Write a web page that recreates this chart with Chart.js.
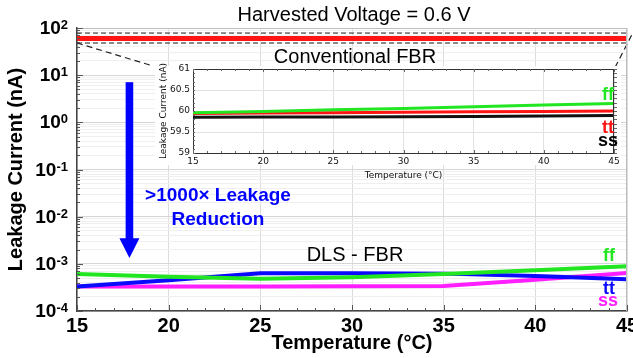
<!DOCTYPE html>
<html>
<head>
<meta charset="utf-8">
<script src="https://cdn.jsdelivr.net/npm/chart.js@4.4.1/dist/chart.umd.min.js"></script>
<style>
  html, body { margin: 0; padding: 0; background: #fff; }
  #wrap { position: relative; width: 633px; height: 358px; overflow: hidden; }
  #main { position: absolute; left: 0; top: 0; }
  #inset { position: absolute; left: 155px; top: 62px; }
</style>
</head>
<body>
<div id="wrap">
  <canvas id="main" width="633" height="358"></canvas>
  <canvas id="inset" width="470" height="125"></canvas>
</div>
<script>
// ===== data =====
const temps = [15, 20, 25, 30, 35, 40, 45];
// DLS-FBR leakage (nA)
const dlsFF = [6.1e-4, 5.3e-4, 4.8e-4, 5.2e-4, 6.1e-4, 7.3e-4, 8.9e-4];
const dlsTT = [3.3e-4, 4.5e-4, 6.3e-4, 6.3e-4, 6.2e-4, 5.5e-4, 4.7e-4];
const dlsSS = [3.3e-4, 3.3e-4, 3.3e-4, 3.35e-4, 3.4e-4, 4.6e-4, 6.4e-4];
// conventional FBR leakage (nA)
const convFF = [59.96, 59.99, 60.03, 60.06, 60.10, 60.14, 60.18];
const convTT = [59.94, 59.95, 59.96, 59.97, 59.98, 59.99, 60.00];
const convSS = [59.85, 59.855, 59.86, 59.865, 59.87, 59.88, 59.89];
// axes
const yDecades = [-4, -3, -2, -1, 0, 1, 2];
const insetRange = [59, 61];
// zoom box round the conventional lines (nA) and the connector lines
const zoomBox = [78, 48];
const connLeft = [[15, 48], [19.0, 16.3]];
const connRight = [[45.25, 70], [44.3, 13.4]];
// arrow (x in degC, y in nA)
const arrow = { x: 17.86, top: 7.1, headBase: 3.5e-3, tip: 1.33e-3 };

const FONT = 'Arial, "Liberation Sans", sans-serif';
const SMALL = '"DejaVu Sans", Verdana, sans-serif';
const GREEN = '#22e622', RED = '#ff1414', BLUE = '#0a0aff', MAGENTA = '#ff1eff', BLACK = '#111';

const pts = (ys) => temps.map((t, i) => ({ x: t, y: ys[i] }));
const pair = (p) => p.map(([x, y]) => ({ x, y }));
const flat = (v) => [{ x: 15, y: v }, { x: 45, y: v }];

function line(label, data, color, width, extra) {
    return Object.assign({ label, data, borderColor: color, backgroundColor: color,
        borderWidth: width, pointRadius: 0, tension: 0, fill: false }, extra || {});
}

function txt(ctx, s, x, y, font, color, align) {
    ctx.save();
    ctx.font = font; ctx.fillStyle = color;
    ctx.textAlign = align || 'center'; ctx.textBaseline = 'middle';
    ctx.fillText(s, x, y);
    ctx.restore();
}

// ===== main chart decorations =====
const mainDecor = {
    id: 'mainDecor',
    afterDraw(chart) {
        const { ctx, chartArea: a, scales: { x, y } } = chart;
        ctx.save();
        // top / right frame
        ctx.strokeStyle = '#bdbdbd'; ctx.lineWidth = 1;
        ctx.beginPath();
        ctx.moveTo(a.left, a.top + 0.5); ctx.lineTo(a.right, a.top + 0.5);
        ctx.moveTo(a.right - 0.5, a.top); ctx.lineTo(a.right - 0.5, a.bottom);
        ctx.stroke();
        // inward minor ticks
        ctx.strokeStyle = '#555';
        ctx.beginPath();
        for (let t = 15; t <= 45; t++) {
            const px = Math.round(x.getPixelForValue(t)) + 0.5;
            const len = t % 5 === 0 ? 6 : 3;
            ctx.moveTo(px, a.bottom); ctx.lineTo(px, a.bottom - len);
        }
        y.ticks.forEach(tk => {
            const py = Math.round(y.getPixelForValue(tk.value)) + 0.5;
            ctx.moveTo(a.left, py); ctx.lineTo(a.left + (tk.major ? 6 : 3), py);
        });
        ctx.stroke();
        ctx.restore();

        // y tick labels 10^n
        yDecades.forEach(e => {
            const py = y.getPixelForValue(Math.pow(10, e));
            const exp = String(e);
            ctx.save();
            ctx.fillStyle = '#000';
            ctx.textBaseline = 'alphabetic';
            ctx.textAlign = 'right';
            ctx.font = 'bold 13px ' + FONT;
            const ew = ctx.measureText(exp).width;
            ctx.fillText(exp, 68, py + 1);
            ctx.font = 'bold 19px ' + FONT;
            ctx.fillText('10', 68 - ew, py + 6);
            ctx.restore();
        });

        // arrow
        const ax = x.getPixelForValue(arrow.x);
        const aTop = y.getPixelForValue(arrow.top);
        const aBase = y.getPixelForValue(arrow.headBase);
        const aTip = y.getPixelForValue(arrow.tip);
        ctx.save();
        ctx.fillStyle = '#0000ff';
        ctx.fillRect(ax - 3.8, aTop, 7.6, aBase - aTop + 1);
        ctx.beginPath();
        ctx.moveTo(ax - 10, aBase); ctx.lineTo(ax + 10, aBase); ctx.lineTo(ax, aTip);
        ctx.closePath(); ctx.fill();
        ctx.restore();

        // annotations
        const cx = (a.left + a.right) / 2;
        txt(ctx, 'Harvested Voltage = 0.6 V', cx + 2, 15, '20px ' + FONT, '#000');
        txt(ctx, 'Conventional FBR', cx + 3, 57, '20px ' + FONT, '#000');
        txt(ctx, 'DLS - FBR', cx + 3, 255, '20px ' + FONT, '#000');
        txt(ctx, '>1000\u00d7 Leakage', 218, 196, 'bold 19px ' + FONT, '#0000ff');
        txt(ctx, 'Reduction', 218, 220, 'bold 19px ' + FONT, '#0000ff');
        txt(ctx, 'ff', 609, 256, 'bold 18px ' + FONT, GREEN);
        txt(ctx, 'tt', 609, 289, 'bold 18px ' + FONT, BLUE);
        txt(ctx, 'ss', 608, 301, 'bold 18px ' + FONT, MAGENTA);
    }
};

new Chart(document.getElementById('main'), {
    type: 'line',
    data: {
        datasets: [
            line('conv tt', pts(convTT), RED, 5),
            line('conv ff', pts(convFF), GREEN, 4),
            line('conv ss', pts(convSS), BLACK, 4),
            line('box top', flat(zoomBox[0]), '#222', 1, { borderDash: [5, 3] }),
            line('box bottom', flat(zoomBox[1]), '#222', 1, { borderDash: [5, 3] }),
            line('conn left', pair(connLeft), '#222', 1.2, { borderDash: [6, 4], clip: false }),
            line('conn right', pair(connRight), '#222', 1.2, { borderDash: [6, 4], clip: false }),
            line('DLS ff', pts(dlsFF), GREEN, 4),
            line('DLS tt', pts(dlsTT), BLUE, 4),
            line('DLS ss', pts(dlsSS), MAGENTA, 4)
        ]
    },
    options: {
        responsive: false, animation: false, devicePixelRatio: 1,
        layout: { padding: { top: 28, right: 6, bottom: 0, left: 0 } },
        plugins: { legend: { display: false }, tooltip: { enabled: false } },
        scales: {
            x: {
                type: 'linear', min: 15, max: 45,
                ticks: { stepSize: 5, color: '#000', padding: 3, font: { family: FONT, size: 20, weight: 'bold' } },
                grid: { color: '#dcdcdc', drawTicks: false },
                border: { color: '#444', width: 1.5 },
                title: { display: true, text: 'Temperature (\u00b0C)', color: '#000',
                    font: { family: FONT, size: 20, weight: 'bold' }, padding: { top: 0, bottom: 3 } },
                afterFit: s => { s.height = 47; s.paddingLeft = 0; s.paddingRight = 0; }
            },
            y: {
                type: 'logarithmic', min: 1e-4, max: 100,
                afterBuildTicks: s => {
                    const t = [];
                    yDecades.forEach(e => {
                        for (let m = 1; m <= 9; m++) {
                            if (e === 2 && m > 1) break;
                            t.push({ value: m * Math.pow(10, e), major: m === 1 });
                        }
                    });
                    s.ticks = t;
                },
                ticks: { display: false },
                grid: { drawTicks: false, color: c => (c.tick && c.tick.major) ? '#d6d6d6' : '#efefef' },
                border: { color: '#444', width: 1.5 },
                title: { display: true, text: 'Leakage Current (nA)', color: '#000',
                    font: { family: FONT, size: 20, weight: 'bold' }, padding: { top: 4, bottom: 0 } },
                afterFit: s => { s.width = 77; s.paddingTop = 0; s.paddingBottom = 0; }
            }
        }
    },
    plugins: [mainDecor]
});

// ===== inset =====
const insetDecor = {
    id: 'insetDecor',
    beforeDraw(chart) {
        const { ctx, width } = chart;
        ctx.save();
        ctx.fillStyle = '#fff';
        ctx.fillRect(0, 4, width - 4, 99);
        ctx.restore();
    },
    afterDraw(chart) {
        const { ctx, chartArea: a, scales: { x, y } } = chart;
        ctx.save();
        ctx.strokeStyle = '#333'; ctx.lineWidth = 1;
        ctx.beginPath();
        ctx.moveTo(a.left, a.top + 0.5); ctx.lineTo(a.right, a.top + 0.5);
        ctx.moveTo(a.right - 0.5, a.top); ctx.lineTo(a.right - 0.5, a.bottom);
        ctx.stroke();
        ctx.strokeStyle = '#666';
        ctx.beginPath();
        for (let t = 15; t <= 45; t++) {
            const px = Math.round(x.getPixelForValue(t)) + 0.5;
            const len = t % 5 === 0 ? 3 : 2;
            ctx.moveTo(px, a.bottom); ctx.lineTo(px, a.bottom - len);
            ctx.moveTo(px, a.top); ctx.lineTo(px, a.top + len);
        }
        for (let v = insetRange[0]; v <= insetRange[1] + 1e-9; v += 0.1) {
            const py = Math.round(y.getPixelForValue(v)) + 0.5;
            ctx.moveTo(a.left, py); ctx.lineTo(a.left + 2, py);
            ctx.moveTo(a.right, py); ctx.lineTo(a.right + 3, py);
        }
        ctx.stroke();
        ctx.restore();
        txt(ctx, 'ff', 608 - 155, 95 - 62, 'bold 18px ' + FONT, GREEN);
        txt(ctx, 'tt', 608 - 155, 128 - 62, 'bold 18px ' + FONT, RED);
        txt(ctx, 'ss', 608 - 155, 141 - 62, 'bold 18px ' + FONT, '#000');
    }
};

new Chart(document.getElementById('inset'), {
    type: 'line',
    data: {
        datasets: [
            line('ff', pts(convFF), GREEN, 3),
            line('tt', pts(convTT), RED, 3),
            line('ss', pts(convSS), BLACK, 3)
        ]
    },
    options: {
        responsive: false, animation: false, devicePixelRatio: 1,
        layout: { padding: { top: 7, right: 11, bottom: 0, left: 0 } },
        plugins: { legend: { display: false }, tooltip: { enabled: false } },
        scales: {
            x: {
                type: 'linear', min: 15, max: 45,
                ticks: { stepSize: 5, color: '#111', padding: 3, font: { family: SMALL, size: 9 } },
                grid: { color: '#e2e2e2', drawTicks: false },
                border: { color: '#333', width: 1 },
                title: { display: true, text: 'Temperature (\u00b0C)', color: '#111',
                    font: { family: SMALL, size: 9 }, padding: { top: 0, bottom: 6 } },
                afterFit: s => { s.height = 34; s.paddingLeft = 0; s.paddingRight = 0; }
            },
            y: {
                type: 'linear', min: insetRange[0], max: insetRange[1],
                ticks: { stepSize: 0.5, color: '#111', padding: 3, font: { family: SMALL, size: 9 },
                    callback: v => String(Number(Number(v).toFixed(1))) },
                grid: { color: '#e2e2e2', drawTicks: false },
                border: { color: '#333', width: 1 },
                title: { display: true, text: 'Leakage Current (nA)', color: '#111',
                    font: { family: SMALL, size: 9 }, padding: { top: 3, bottom: 0 } },
                afterFit: s => { s.width = 38; s.paddingTop = 0; s.paddingBottom = 0; }
            }
        }
    },
    plugins: [insetDecor]
});
</script>
</body>
</html>
